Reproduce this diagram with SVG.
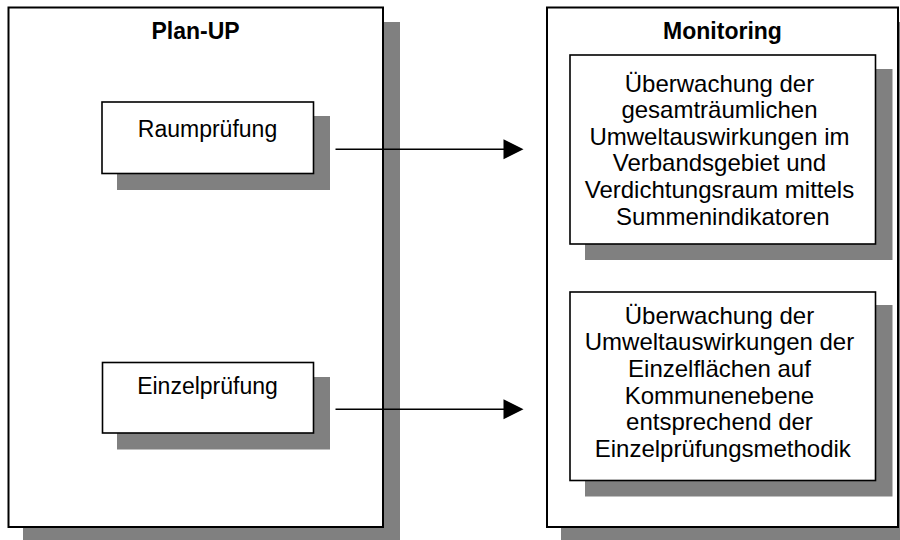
<svg xmlns="http://www.w3.org/2000/svg" width="900" height="540" viewBox="0 0 900 540">
  <style>
    .shadow { fill: #808080; stroke: none; }
    .box { fill: #ffffff; stroke: #000000; stroke-width: 2; }
    .inner { fill: #ffffff; stroke: #000000; stroke-width: 1.6; }
    .title { font-family: "Liberation Sans", Arial, sans-serif; font-size: 23px; font-weight: bold; fill: #000; text-anchor: middle; }
    .label { font-family: "Liberation Sans", Arial, sans-serif; font-size: 23px; fill: #000; text-anchor: middle; }
    .text { font-family: "Liberation Sans", Arial, sans-serif; font-size: 24px; fill: #000; text-anchor: middle; }
    .conn { stroke: #000; stroke-width: 1.6; fill: none; }
    .head { fill: #000; stroke: none; }
  </style>
  <rect x="0" y="0" width="900" height="540" fill="#ffffff"/>

  <g id="plan-up">
    <rect class="shadow" x="23" y="22" width="377" height="520"/>
    <rect class="box" x="8.5" y="7.5" width="374.5" height="519.5"/>
    <text class="title" x="195.5" y="39">Plan-UP</text>
  </g>

  <g id="raumpruefung">
    <rect class="shadow" x="117" y="116" width="213" height="74"/>
    <rect class="inner" x="102" y="102" width="211.5" height="71.5"/>
    <text class="label" x="207.5" y="137">Raumprüfung</text>
  </g>

  <g id="einzelpruefung">
    <rect class="shadow" x="117" y="377" width="213" height="72.5"/>
    <rect class="inner" x="102.5" y="362.5" width="211" height="70.5"/>
    <text class="label" x="207.5" y="393.5">Einzelprüfung</text>
  </g>

  <g id="monitoring">
    <rect class="shadow" x="561" y="22" width="345" height="525"/>
    <rect class="box" x="547" y="7.5" width="351" height="519.5"/>
    <text class="title" x="722.5" y="38.5">Monitoring</text>
  </g>

  <g id="ueberwachung-gesamt">
    <rect class="shadow" x="585" y="69" width="307.5" height="191"/>
    <rect class="inner" x="570" y="55" width="305.5" height="189"/>
    <text class="text" x="722.8">
      <tspan x="722.8" y="91.5">Überwachung der</tspan>
      <tspan x="722.8" y="118">gesamträumlichen</tspan>
      <tspan x="722.8" y="144.7">Umweltauswirkungen im</tspan>
      <tspan x="722.8" y="171.3">Verbandsgebiet und</tspan>
      <tspan x="722.8" y="198">Verdichtungsraum mittels</tspan>
      <tspan x="722.8" y="224.5">Summenindikatoren</tspan>
    </text>
  </g>

  <g id="ueberwachung-einzel">
    <rect class="shadow" x="585" y="305" width="307.5" height="191.5"/>
    <rect class="inner" x="570" y="292" width="305.5" height="188.5"/>
    <text class="text" x="722.8">
      <tspan x="722.8" y="323.5">Überwachung der</tspan>
      <tspan x="722.8" y="350.2">Umweltauswirkungen der</tspan>
      <tspan x="722.8" y="376.9">Einzelflächen auf</tspan>
      <tspan x="722.8" y="403.6">Kommunenebene</tspan>
      <tspan x="722.8" y="430.3">entsprechend der</tspan>
      <tspan x="722.8" y="457">Einzelprüfungsmethodik</tspan>
    </text>
  </g>

  <g id="connectors">
    <line class="conn" x1="335.5" y1="149.3" x2="506" y2="149.3"/>
    <polygon class="head" points="503.5,139.3 523.5,149.3 503.5,159.3"/>
    <line class="conn" x1="335.5" y1="409.3" x2="506" y2="409.3"/>
    <polygon class="head" points="503.5,399.3 523.5,409.3 503.5,419.3"/>
  </g>
</svg>
